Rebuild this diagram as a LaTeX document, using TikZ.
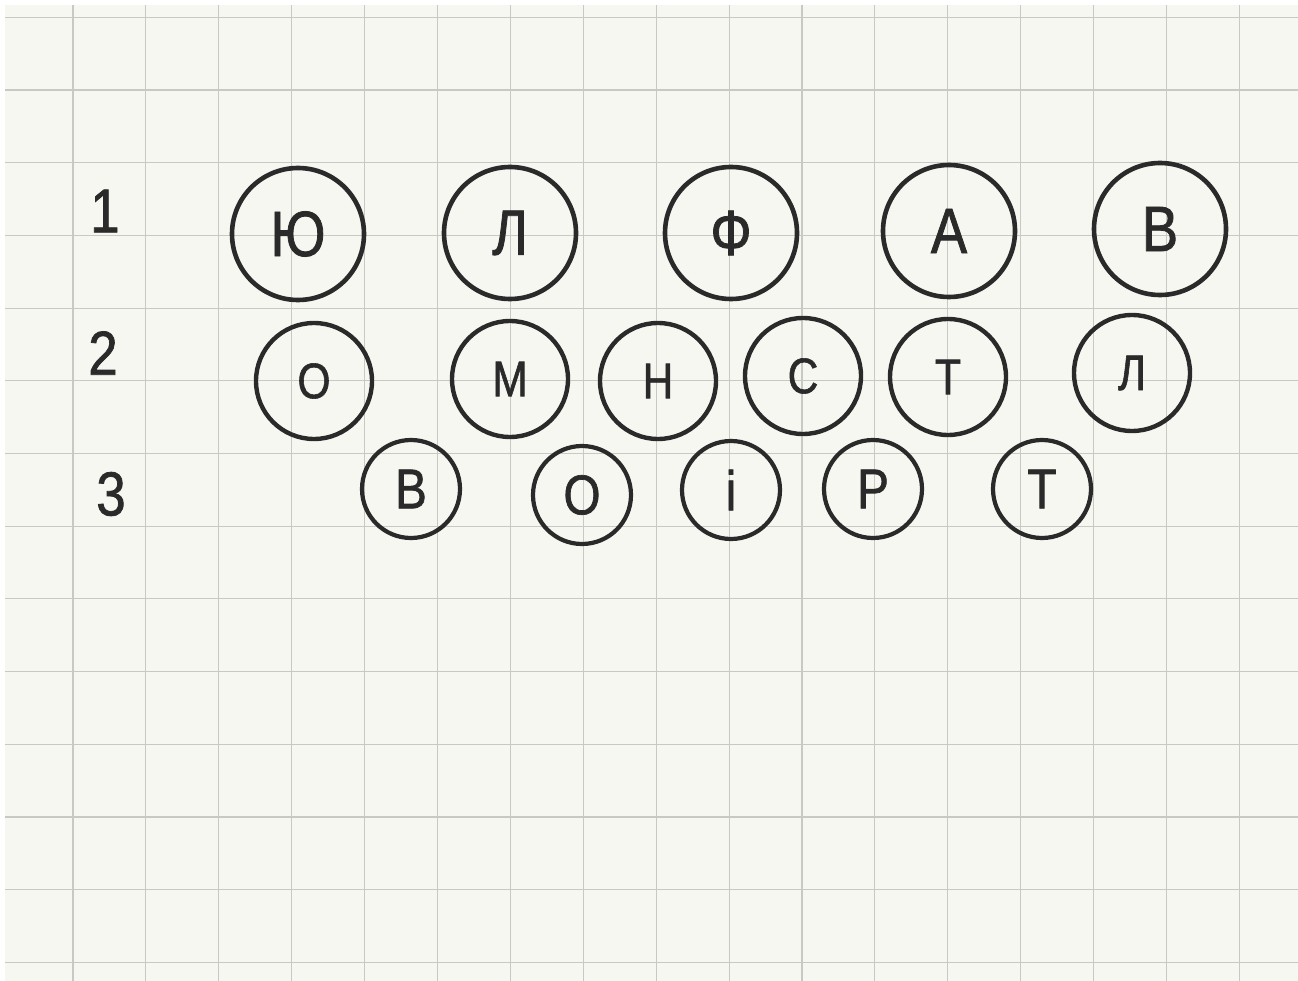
\documentclass[tikz,border=0pt]{standalone}
\usepackage{fontspec}
\newfontfamily\hand[FakeStretch=0.85,FakeBold=1.2]{Liberation Sans}
\definecolor{paper}{HTML}{F7F7F2}
\definecolor{gridc}{HTML}{C8C8C4}
\definecolor{ink}{HTML}{2A2A2A}
\begin{document}
\begin{tikzpicture}[x=1pt,y=-1pt,
  ring/.style={circle,draw=ink,inner sep=0pt,text=ink},
  bigring/.style={ring,line width=4.6pt,minimum size=132pt,font=\hand\fontsize{64}{64}\selectfont},
  midring/.style={ring,line width=4.4pt,minimum size=116pt,font=\hand\fontsize{50}{50}\selectfont},
  smallring/.style={ring,line width=4.2pt,minimum size=98pt,font=\hand\fontsize{56}{56}\selectfont},
  rowlabel/.style={text=ink,inner sep=0pt,font=\hand\fontsize{62}{62}\selectfont},
  gridline/.style={gridc,line width=1.1pt}]
\useasboundingbox (0,0) rectangle (1298,981);
\fill[white] (0,0) rectangle (1298,981);
\fill[paper] (5,5) rectangle (1298,981);
\foreach \i in {0,...,16} \draw[gridline] ({73+72.9*\i},5) -- ({73+72.9*\i},981);
\foreach \j in {0,...,13} \draw[gridline] (5,{17.3+72.7*\j}) -- (1298,{17.3+72.7*\j});
% row labels
\node[rowlabel] (lab1) at (105,211) {1};
\node[rowlabel] (lab2) at (103,353) {2};
\node[rowlabel] (lab3) at (111,494) {3};
% row 1
\node[bigring] (a1) at (298,234) {Ю};
\node[bigring] (a2) at (510,233) {Л};
\node[bigring] (a3) at (731,233) {Ф};
\node[bigring] (a4) at (949,231) {А};
\node[bigring] (a5) at (1160,229) {В};
% row 2
\node[midring] (b1) at (314,381) {О};
\node[midring] (b2) at (510,379) {М};
\node[midring] (b3) at (658,381) {Н};
\node[midring] (b4) at (803,376) {С};
\node[midring] (b5) at (948,377) {Т};
\node[midring] (b6) at (1132,373) {Л};
% row 3
\node[smallring] (c1) at (411,489) {В};
\node[smallring] (c2) at (582,495) {О};
\node[smallring] (c3) at (731,490) {і};
\node[smallring] (c4) at (873,489) {Р};
\node[smallring] (c5) at (1042,489) {Т};
\end{tikzpicture}
\end{document}
